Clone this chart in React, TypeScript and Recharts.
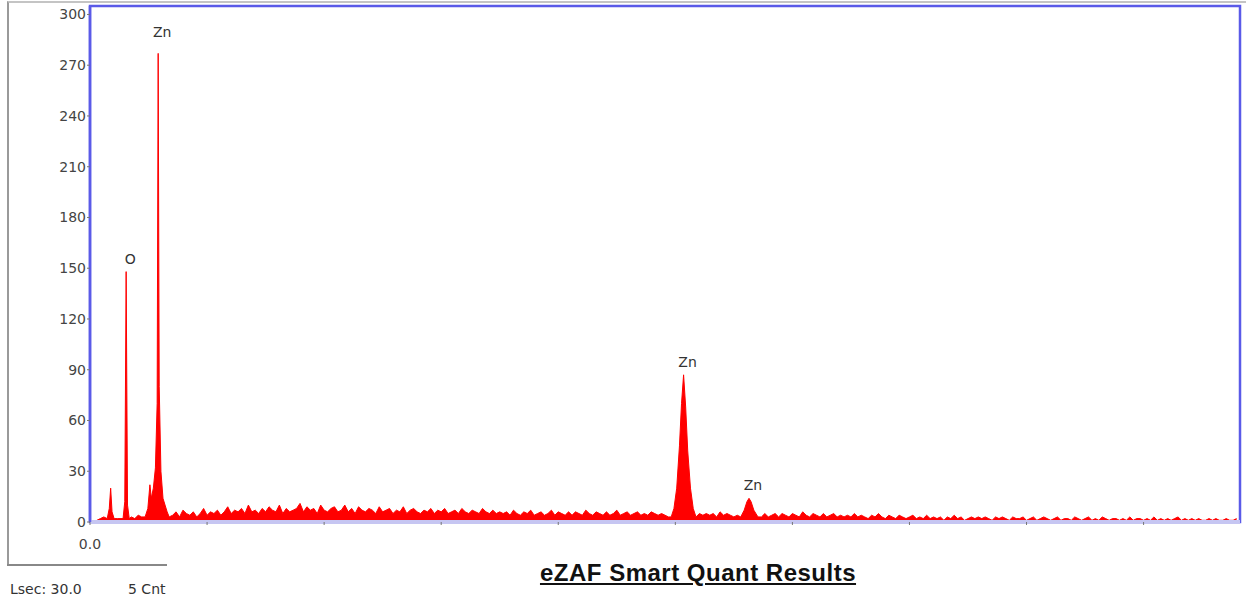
import React from 'react';
import { ComposedChart, Area, XAxis, YAxis, ReferenceDot, ReferenceArea } from 'recharts';

// Background spectrum counts on a 0.05 keV channel grid starting at 0 keV
const channelStep = 0.05;
const backgroundCounts: number[] = [
  0, 0, 1, 2, 3, 3, 3, 2, 2, 2, 2, 2, 3, 2, 4, 3, 4, 3, 3, 3,
  3, 3, 3, 5, 4, 6, 3, 7, 5, 4, 6, 3, 5, 8, 4, 6, 5, 7, 4, 6,
  9, 5, 7, 6, 8, 5, 10, 6, 7, 5, 8, 6, 9, 7, 6, 10, 5, 8, 6, 7,
  8, 11, 6, 9, 7, 8, 5, 10, 7, 6, 8, 9, 6, 7, 10, 6, 8, 5, 9, 7,
  6, 8, 7, 5, 9, 6, 7, 8, 5, 7, 6, 9, 5, 7, 8, 6, 5, 7, 6, 8,
  5, 7, 6, 8, 5, 6, 7, 5, 8, 6, 5, 7, 6, 5, 8, 6, 5, 7, 5, 6,
  5, 6, 4, 7, 5, 4, 6, 5, 7, 4, 5, 6, 4, 5, 7, 4, 6, 5, 4, 6,
  4, 6, 5, 4, 7, 5, 4, 6, 5, 4, 6, 4, 5, 7, 4, 5, 6, 4, 5, 6,
  4, 5, 4, 6, 5, 4, 5, 4, 3, 3, 3, 3, 3, 3, 3, 3, 3, 5, 4, 5,
  4, 5, 3, 6, 4, 5, 4, 3, 4, 5, 3, 4, 3, 3, 3, 3, 5, 3, 4, 5,
  3, 5, 4, 3, 5, 4, 3, 6, 4, 3, 5, 4, 3, 5, 3, 4, 5, 3, 4, 3,
  4, 3, 5, 3, 4, 3, 2, 4, 3, 5, 3, 2, 4, 3, 2, 4, 3, 2, 3, 4,
  2, 3, 2, 4, 2, 3, 2, 3, 1, 3, 2, 4, 2, 3, 1, 2, 3, 2, 3, 2,
  3, 2, 1, 3, 2, 3, 2, 1, 3, 2, 2, 3, 1, 2, 3, 1, 2, 3, 2, 1,
  2, 3, 1, 2, 2, 1, 3, 2, 1, 2, 3, 1, 2, 1, 3, 2, 1, 2, 2, 1,
  2, 1, 3, 1, 2, 2, 1, 2, 1, 3, 1, 2, 1, 2, 1, 2, 3, 1, 2, 1,
  2, 1, 2, 1, 1, 2, 1, 2, 1, 1, 2, 1, 1, 2,
];

// Peaks (energy keV, counts)
const peakC_E = [0.25, 0.28, 0.3, 0.32, 0.35];
const peakC_N = [2, 8, 20, 6, 2];
const peakO_E = [0.48, 0.505, 0.525, 0.545, 0.57];
const peakO_N = [2, 12, 148, 10, 2];
const peakZnL_E = [0.8, 0.84, 0.87, 0.89, 0.92, 0.95, 0.975, 0.99, 1.005, 1.03, 1.06, 1.09, 1.12, 1.15];
const peakZnL_N = [3, 8, 22, 14, 20, 32, 70, 277, 80, 30, 14, 10, 6, 3];
const peakZnKa_E = [8.44, 8.48, 8.52, 8.56, 8.59, 8.62, 8.65, 8.68, 8.72, 8.76, 8.8];
const peakZnKa_N = [3, 8, 20, 45, 70, 87, 68, 42, 20, 8, 3];
const peakZnKb_E = [9.45, 9.5, 9.54, 9.57, 9.6, 9.64, 9.7];
const peakZnKb_N = [3, 7, 12, 14, 12, 7, 3];

// Peak labels
const labelText = ['O', 'Zn', 'Zn', 'Zn'];
const labelE = [0.525, 0.99, 8.62, 9.57];
const labelN = [148, 277, 87, 14];
const labelGap = [8, 16, 8, 8];

const yTicks = [0, 30, 60, 90, 120, 150, 180, 210, 240, 270, 300];
const xTicks = [0, 1.7, 3.4, 5.1, 6.8, 8.5, 10.2, 11.9, 13.6, 15.3];

const peaks: [number[], number[]][] = [
  [peakC_E, peakC_N],
  [peakO_E, peakO_N],
  [peakZnL_E, peakZnL_N],
  [peakZnKa_E, peakZnKa_N],
  [peakZnKb_E, peakZnKb_N],
];

function buildData() {
  const pts: { energy: number; counts: number }[] = [];
  backgroundCounts.forEach((c, i) => {
    const e = +(i * channelStep).toFixed(3);
    const inside = peaks.some(([es]) => e >= es[0] && e <= es[es.length - 1]);
    if (!inside) pts.push({ energy: e, counts: c });
  });
  peaks.forEach(([es, ns]) => es.forEach((e, i) => pts.push({ energy: e, counts: ns[i] })));
  pts.sort((a, b) => a.energy - b.energy);
  return pts;
}

const data = buildData();
const BLUE = '#5a5ae8';
const FONT = '"DejaVu Sans", "Liberation Sans", sans-serif';

export default function App() {
  return (
    <div style={{ position: 'absolute', left: 0, top: 0, width: 1246, height: 602, background: '#fff', overflow: 'hidden' }}>
      {/* outer gray frame */}
      <div style={{ position: 'absolute', left: 7, top: 1, width: 1239, height: 564, borderTop: '2px solid #c4c4c4', borderLeft: '2px solid #9a9a9a', boxSizing: 'border-box' }} />
      <div style={{ position: 'absolute', left: 7, top: 564, width: 160, height: 2, background: '#888' }} />
      <div style={{ position: 'absolute', left: 0, top: 0 }}>
        <ComposedChart width={1246} height={602} data={data} margin={{ top: 6, right: 6, left: 30, bottom: 50 }}>
          <XAxis
            dataKey="energy"
            type="number"
            domain={[0, 16.7]}
            ticks={xTicks}
            allowDataOverflow
            height={30}
            axisLine={{ stroke: '#c6c6f2', strokeWidth: 4 }}
            tickLine={{ stroke: '#777' }}
            tickSize={3}
            tickMargin={14}
            tickFormatter={(v: number) => (v === 0 ? '0.0' : '')}
            tick={{ fontSize: 14, fill: '#444', fontFamily: FONT }}
          />
          <YAxis
            type="number"
            domain={[0, 305]}
            ticks={yTicks}
            allowDataOverflow
            width={60}
            axisLine={{ stroke: BLUE, strokeWidth: 2.5 }}
            tickLine={{ stroke: '#777' }}
            tickSize={3}
            tickMargin={1}
            tick={{ fontSize: 14, fill: '#444', fontFamily: FONT }}
          />
          <ReferenceArea x1={0} x2={16.7} y1={0} y2={305} fill="none" stroke={BLUE} strokeWidth={2.5} ifOverflow="visible" />
          <Area
            type="linear"
            dataKey="counts"
            stroke="#ff0000"
            strokeWidth={1}
            fill="#ff0000"
            fillOpacity={1}
            dot={false}
            activeDot={false}
            isAnimationActive={false}
          />
          {labelText.map((t, i) => (
            <ReferenceDot
              key={i}
              x={labelE[i]}
              y={labelN[i]}
              r={0}
              fill="none"
              stroke="none"
              label={{ value: t, position: 'top', offset: labelGap[i], dx: 4, fill: '#333', fontSize: 14, fontFamily: FONT }}
            />
          ))}
        </ComposedChart>
      </div>
      <div style={{ position: 'absolute', left: 10, top: 581, fontSize: 14, color: '#333', fontFamily: FONT }}>Lsec: 30.0</div>
      <div style={{ position: 'absolute', left: 128, top: 581, fontSize: 14, color: '#333', fontFamily: FONT }}>5 Cnt</div>
      <div style={{ position: 'absolute', left: 448, top: 559, width: 500, textAlign: 'center', fontSize: 24, fontWeight: 'bold', letterSpacing: 0.5, textDecoration: 'underline', color: '#111', fontFamily: '"Liberation Sans", Arial, sans-serif' }}>
        eZAF Smart Quant Results
      </div>
    </div>
  );
}
